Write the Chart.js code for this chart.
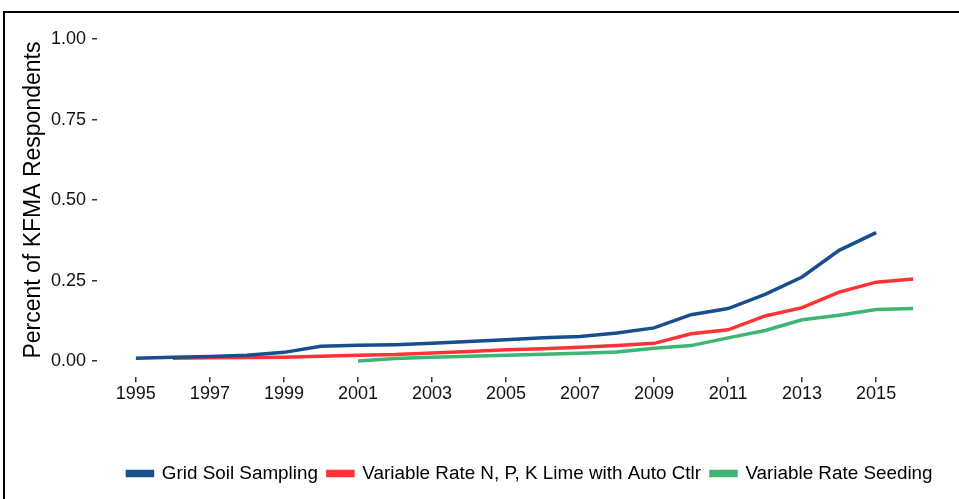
<!DOCTYPE html>
<html lang="en">
<head>
    <meta charset="UTF-8">
    <title>Precision Ag Adoption</title>
    <script src="https://cdn.jsdelivr.net/npm/chart.js@4.4.0/dist/chart.umd.min.js"></script>
    <style>
        html, body { margin: 0; padding: 0; background: #fff; overflow: hidden; }
        #wrap { position: absolute; left: 0; top: 0; width: 1060px; height: 499px; }
        #frame { position: absolute; left: 3px; top: 11px; width: 2000px; height: 2000px; border: 2px solid #000; box-sizing: border-box; pointer-events: none; }
    </style>
</head>
<body>
    <div id="wrap"><canvas id="chart"></canvas></div>
    <div id="frame"></div>

    <script>
        // years on the x axis
        const years = [1995, 1996, 1997, 1998, 1999, 2000, 2001, 2002, 2003, 2004, 2005,
                       2006, 2007, 2008, 2009, 2010, 2011, 2012, 2013, 2014, 2015, 2016];
        const xTicks = [1995, 1997, 1999, 2001, 2003, 2005, 2007, 2009, 2011, 2013, 2015];
        const yTicks = [0, 0.25, 0.5, 0.75, 1];

        // share of respondents, null = no data that year
        const gridSoil = [0.009, 0.012, 0.014, 0.018, 0.027, 0.046, 0.049, 0.051, 0.055, 0.061, 0.066,
                          0.072, 0.076, 0.087, 0.103, 0.144, 0.163, 0.207, 0.261, 0.344, 0.399, null];
        const varRateNPK = [null, 0.009, 0.010, 0.011, 0.012, 0.015, 0.018, 0.020, 0.025, 0.030, 0.035,
                            0.038, 0.043, 0.048, 0.055, 0.085, 0.097, 0.140, 0.166, 0.214, 0.245, 0.255];
        const varRateSeed = [null, null, null, null, null, null, 0.0, 0.008, 0.012, 0.015, 0.018,
                             0.021, 0.024, 0.028, 0.040, 0.048, 0.072, 0.095, 0.128, 0.142, 0.160, 0.163];

        const seriesNames = ['Grid Soil Sampling', 'Variable Rate N, P, K Lime with Auto Ctlr', 'Variable Rate Seeding'];
        const seriesColors = ['#174f8c', '#ff3333', '#3cb672'];

        function toPoints(vals) {
            const pts = [];
            vals.forEach((v, i) => { if (v !== null) pts.push({ x: years[i], y: v }); });
            return pts;
        }

        const datasets = [gridSoil, varRateNPK, varRateSeed].map((vals, i) => ({
            label: seriesNames[i],
            data: toPoints(vals),
            borderColor: seriesColors[i],
            backgroundColor: seriesColors[i],
            borderWidth: 3.5,
            pointRadius: 0,
            tension: 0,
            fill: false
        }));

        const font = 'Liberation Sans, Arial, sans-serif';

        new Chart(document.getElementById('chart'), {
            type: 'line',
            data: { datasets: datasets },
            options: {
                responsive: true,
                maintainAspectRatio: false,
                animation: false,
                layout: { padding: { top: 23, right: 0, bottom: 6, left: 0 } },
                plugins: {
                    tooltip: { enabled: false },
                    legend: {
                        position: 'bottom',
                        labels: {
                            boxWidth: 25,
                            boxHeight: 4,
                            padding: 10,
                            color: '#000',
                            font: { family: font, size: 18.85 }
                        }
                    }
                },
                scales: {
                    x: {
                        type: 'linear',
                        min: 1993.95,
                        max: 2017.05,
                        afterBuildTicks: s => { s.ticks = xTicks.map(v => ({ value: v })); },
                        afterFit: s => { s.height = 77; },
                        grid: { drawOnChartArea: false, drawTicks: true, tickLength: 5, lineWidth: 1.5, color: '#333' },
                        border: { display: false },
                        ticks: {
                            color: '#111',
                            padding: 1,
                            maxRotation: 0,
                            autoSkip: false,
                            font: { family: font, size: 18 },
                            callback: v => String(v)
                        }
                    },
                    y: {
                        min: -0.05,
                        max: 1.05,
                        afterBuildTicks: s => { s.ticks = yTicks.map(v => ({ value: v })); },
                        afterFit: s => { s.width = 97; },
                        grid: { drawOnChartArea: false, drawTicks: true, tickLength: 5, lineWidth: 1.5, color: '#333' },
                        border: { display: false },
                        title: {
                            display: true,
                            text: 'Percent of KFMA Respondents',
                            color: '#000',
                            padding: { top: 20, bottom: 0 },
                            font: { family: font, size: 23 }
                        },
                        ticks: {
                            color: '#111',
                            padding: 6,
                            font: { family: font, size: 18 },
                            callback: v => v.toFixed(2)
                        }
                    },
                    // empty right-hand spacer so the panel ends where the reference's does
                    spacer: {
                        position: 'right',
                        min: 0,
                        max: 1,
                        afterFit: s => { s.width = 108; },
                        grid: { display: false },
                        border: { display: false },
                        ticks: { display: false }
                    }
                }
            }
        });
    </script>
</body>
</html>
